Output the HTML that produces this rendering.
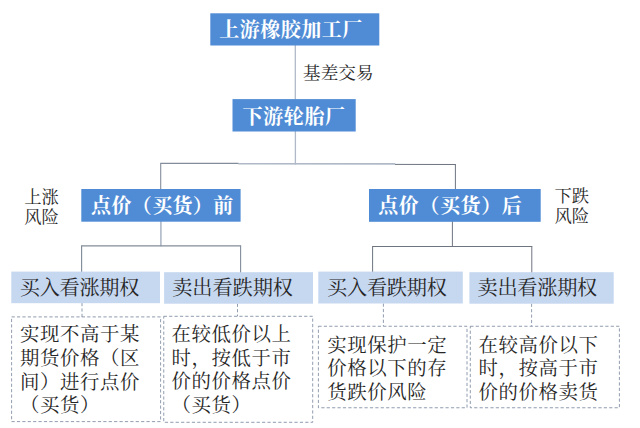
<!DOCTYPE html>
<html lang="zh"><head><meta charset="utf-8"><title>diagram</title>
<style>
html,body{margin:0;padding:0;background:#fff;font-family:"Liberation Sans",sans-serif;}
svg{display:block}
</style></head><body>
<svg width="640" height="428" viewBox="0 0 640 428">
<rect width="640" height="428" fill="#fff"/>
<line x1="295.3" y1="45" x2="295.3" y2="100" stroke="#afb9c7" stroke-width="1.3"/>
<line x1="295.4" y1="131" x2="295.4" y2="164.5" stroke="#afb9c7" stroke-width="1.3"/>
<line x1="238.3" y1="163.8" x2="395.2" y2="163.9" stroke="#afb9c7" stroke-width="1.6"/>
<line x1="160.2" y1="163.4" x2="238.5" y2="163.4" stroke="#838d9a" stroke-width="1.1"/>
<line x1="395" y1="164.4" x2="455.9" y2="164.5" stroke="#6e7580" stroke-width="1.0"/>
<line x1="160.7" y1="163.4" x2="160.7" y2="190" stroke="#838d9a" stroke-width="1.1"/>
<line x1="455.4" y1="164.4" x2="455.4" y2="190" stroke="#6e7580" stroke-width="1.0"/>
<line x1="160.9" y1="221" x2="160.9" y2="246.2" stroke="#afb9c7" stroke-width="1.6"/>
<line x1="81.1" y1="245.8" x2="241.1" y2="245.8" stroke="#838d9a" stroke-width="1.15"/>
<line x1="81.6" y1="245.8" x2="81.6" y2="272" stroke="#838d9a" stroke-width="1.15"/>
<line x1="240.6" y1="245.8" x2="240.6" y2="273" stroke="#838d9a" stroke-width="1.1"/>
<line x1="452.4" y1="221" x2="452.4" y2="247" stroke="#6e7580" stroke-width="1.0"/>
<line x1="372.1" y1="246.5" x2="532.3" y2="246.5" stroke="#6e7580" stroke-width="1.0"/>
<line x1="372.6" y1="246.5" x2="372.6" y2="272" stroke="#6e7580" stroke-width="1.0"/>
<line x1="531.8" y1="246.5" x2="531.8" y2="273" stroke="#6e7580" stroke-width="1.0"/>
<line x1="82" y1="303" x2="82" y2="317" stroke="#75839a" stroke-width="0.8" stroke-dasharray="3.2 2.2"/>
<line x1="237.5" y1="303.7" x2="237.5" y2="316.3" stroke="#75839a" stroke-width="0.8" stroke-dasharray="3.2 2.2"/>
<line x1="383.4" y1="303.5" x2="383.4" y2="326.2" stroke="#75839a" stroke-width="0.8" stroke-dasharray="3.2 2.2"/>
<line x1="531.6" y1="303.7" x2="531.6" y2="326.2" stroke="#75839a" stroke-width="0.8" stroke-dasharray="3.2 2.2"/>
<rect x="210.3" y="13.3" width="169.00" height="32.20" fill="#508cd5"/>
<rect x="232.5" y="99.1" width="123.20" height="32.40" fill="#508cd5"/>
<rect x="81.3" y="189.0" width="159.30" height="32.70" fill="#508cd5"/>
<rect x="369.0" y="189.0" width="171.70" height="32.80" fill="#508cd5"/>
<rect x="11.3" y="271.6" width="148.70" height="31.60" fill="#c6d8f0"/>
<rect x="164.1" y="272.2" width="148.90" height="31.50" fill="#c6d8f0"/>
<rect x="318.3" y="271.6" width="144.50" height="31.90" fill="#c6d8f0"/>
<rect x="469.4" y="272.2" width="144.30" height="31.50" fill="#c6d8f0"/>
<rect x="11.6" y="316.9" width="149.00" height="104.70" fill="none" stroke="#75839a" stroke-width="0.8" stroke-dasharray="3.2 2.2"/>
<rect x="163.75" y="316.3" width="148.95" height="106.00" fill="none" stroke="#75839a" stroke-width="0.8" stroke-dasharray="3.2 2.2"/>
<rect x="318.4" y="326.25" width="148.60" height="81.50" fill="none" stroke="#75839a" stroke-width="0.8" stroke-dasharray="3.2 2.2"/>
<rect x="470.3" y="326.25" width="149.10" height="81.50" fill="none" stroke="#75839a" stroke-width="0.8" stroke-dasharray="3.2 2.2"/>
<g font-family="'Liberation Serif','Noto Serif CJK SC',serif">
<g fill="#fff" font-size="20" font-weight="bold">
<text y="36.6" x="219.3 239.8 260.3 280.8 301.3 321.8 342.3">上游橡胶加工厂</text>
<text y="123.7" x="242.6 263.2 283.8 304.4 325">下游轮胎厂</text>
<text y="213" x="91.1 111.45 131.8 152.15 172.5 192.85 213.2">点价（买货）前</text>
<text y="213" x="378.2 398.8 419.4 440 460.6 481.2 501.8">点价（买货）后</text>
</g>
<g fill="#262626">
<text font-size="17.6" y="78.7" x="303 320.65 338.3 355.95">基差交易</text>
<g font-size="17.3">
<text y="203.3" x="24.2 41.5">上涨</text>
<text y="223.2" x="24.2 41.5">风险</text>
<text y="201.9" x="554.4 571.7">下跌</text>
<text y="221.6" x="554.4 571.7">风险</text>
</g>
<g font-size="20.2">
<text y="295" x="19.75 39.65 59.55 79.45 99.35 119.25">买入看涨期权</text>
<text y="295.4" x="172.25 192.35 212.45 232.55 252.65 272.75">卖出看跌期权</text>
<text y="295" x="326.98 346.93 366.88 386.83 406.78 426.73">买入看跌期权</text>
<text y="295.4" x="477.55 497.45 517.35 537.25 557.15 577.05">卖出看涨期权</text>
</g>
<g font-size="19.4">
<text y="341.3" x="20.1 40.1 60.1 80.1 100.1 120.1">实现不高于某</text>
<text y="365.1" x="20.1 40.1 60.1 80.1 100.1 120.1">期货价格（区</text>
<text y="388.9" x="20.1 40.1 60.1 80.1 100.1 120.1">间）进行点价</text>
<text y="412.1" x="20.1 40.1 60.1 80.1">（买货）</text>
<text y="340.8" x="171.6 191.6 211.6 231.6 251.6 271.6">在较低价以上</text>
<text y="364.6" x="171.6 191.6 211.6 231.6 251.6 271.6">时，按低于市</text>
<text y="388.4" x="171.6 191.6 211.6 231.6 251.6 271.6">价的价格点价</text>
<text y="411.9" x="171.6 191.6 211.6 231.6">（买货）</text>
<text y="351.7" x="327.3 347.3 367.3 387.3 407.3 427.3">实现保护一定</text>
<text y="375.3" x="327.3 347.3 367.3 387.3 407.3 427.3">价格以下的存</text>
<text y="399" x="327.3 347.3 367.3 387.3 407.3">货跌价风险</text>
<text y="351.5" x="478.5 498.5 518.5 538.5 558.5 578.5">在较高价以下</text>
<text y="375.2" x="478.5 498.5 518.5 538.5 558.5 578.5">时，按高于市</text>
<text y="398.9" x="478.5 498.5 518.5 538.5 558.5 578.5">价的价格卖货</text>
</g>
</g>
</g>
</svg>
</body></html>
